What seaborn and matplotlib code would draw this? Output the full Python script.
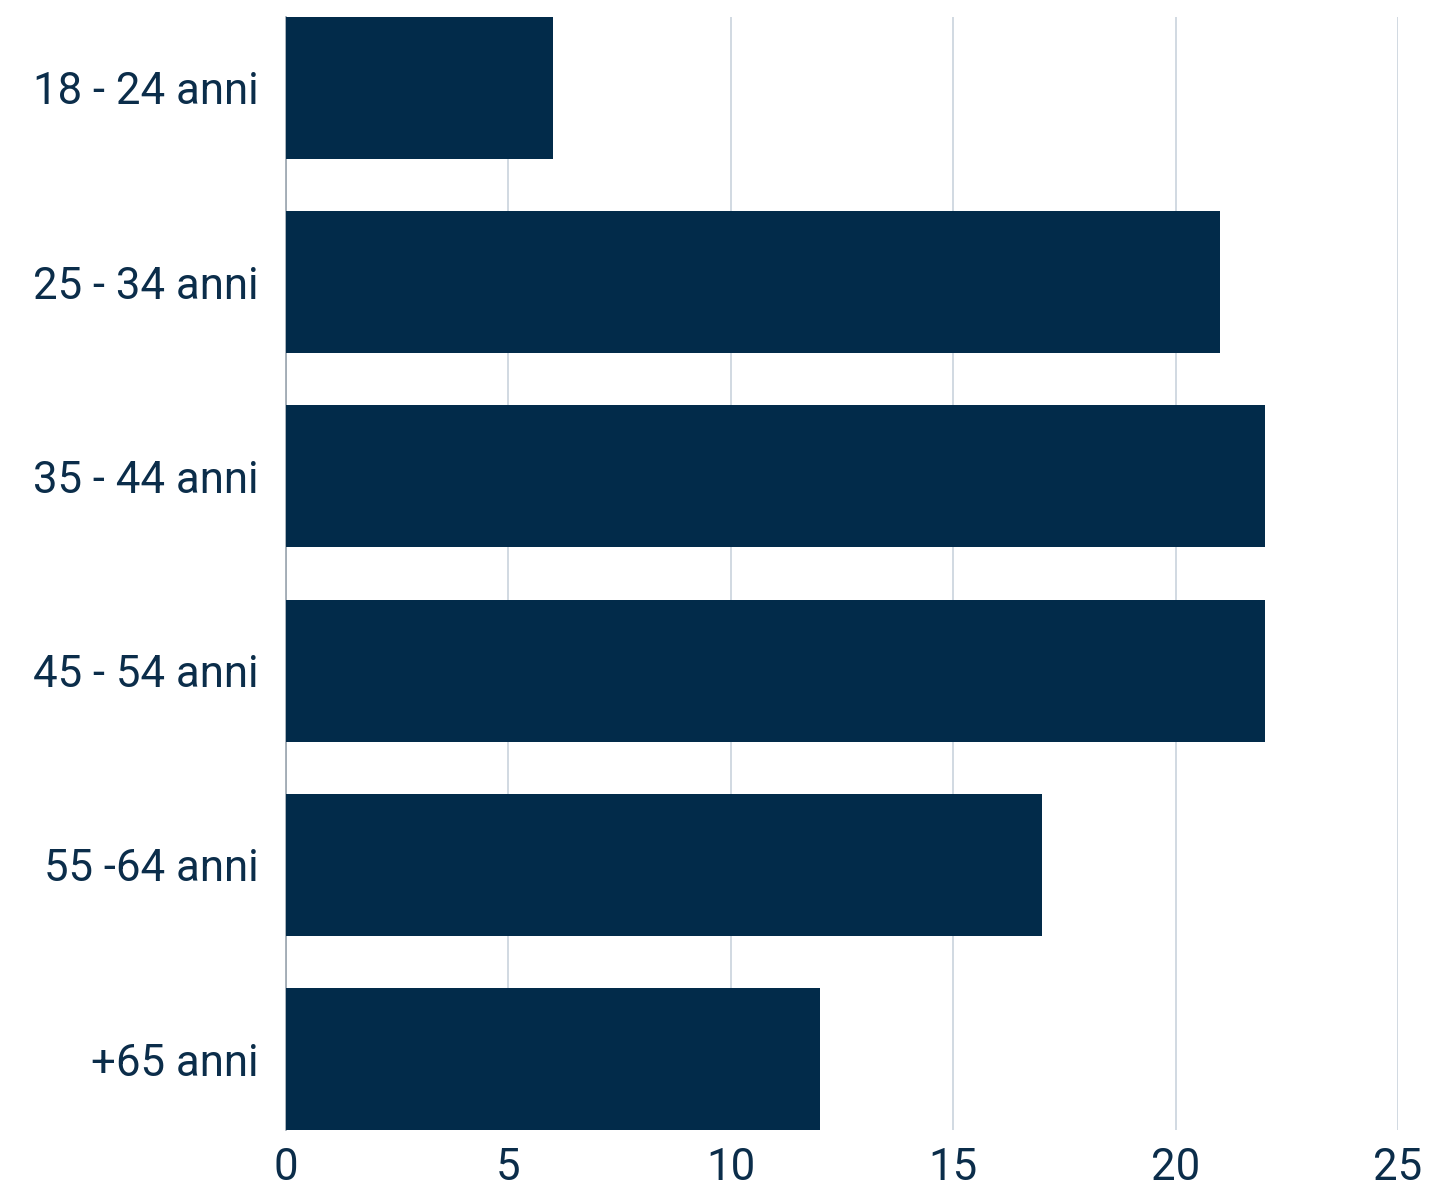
import pandas as pd
import matplotlib.pyplot as plt
import seaborn as sns

fasce = ["18 - 24 anni", "25 - 34 anni", "35 - 44 anni", "45 - 54 anni", "55 -64 anni", "+65 anni"]
valori = [6, 21, 22, 22, 17, 12]
tick_x = [0, 5, 10, 15, 20, 25]

df = pd.DataFrame({"Fascia": fasce, "Valore": valori})

sns.set_style("white")
plt.rcParams["font.family"] = ["Roboto", "DejaVu Sans"]

fig = plt.figure(figsize=(14.31, 11.87), dpi=100)
ax = fig.add_axes([0.1999, 0.048, 0.777, 0.9377])

sns.barplot(data=df, y="Fascia", x="Valore", orient="h", color="#022B4A",
            saturation=1, width=0.73, linewidth=0, ax=ax, zorder=3)

ax.set_xlim(0, 25)
ax.set_ylim(len(fasce) - 1 + 0.365, -0.365)
ax.set_xticks(tick_x)
ax.grid(axis="x", color="#C9D3DD", linewidth=1.2, zorder=0)
ax.set_axisbelow(True)
for s in ["top", "right", "bottom"]:
    ax.spines[s].set_visible(False)
ax.spines["left"].set_color("#9AA4AE")
ax.spines["left"].set_linewidth(1.2)
ax.tick_params(axis="both", length=0, labelsize=31.5, colors="#0B2D4A")
ax.tick_params(axis="y", pad=20)
ax.tick_params(axis="x", pad=12)
ax.set_xlabel("")
ax.set_ylabel("")

fig.savefig("out.png", dpi=100)
